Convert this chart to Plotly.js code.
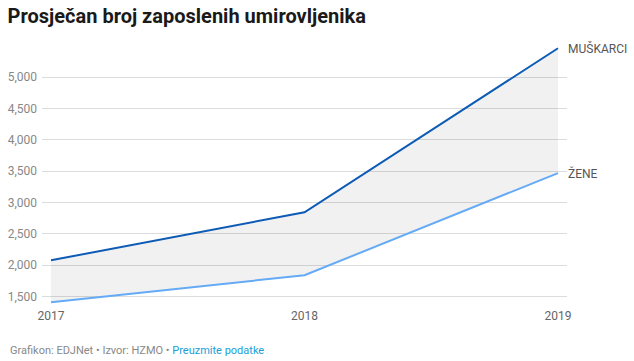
<!DOCTYPE html>
<html>
<head>
<meta charset="utf-8">
<script src="https://cdn.plot.ly/plotly-3.0.1.min.js"></script>
<style>
html,body{margin:0;padding:0;background:#fff;}
#chart{width:634px;height:361px;}
</style>
</head>
<body>
<div id="chart"></div>
<script>
const years = [2017, 2018, 2019];
const muskarci = [2075, 2843, 5462];
const zene = [1404, 1837, 3468];
const yTicks = [1500, 2000, 2500, 3000, 3500, 4000, 4500, 5000];
const seriesNames = ['MUŠKARCI', 'ŽENE'];

const traces = [
  {x: years, y: zene, type: 'scatter', mode: 'lines', name: seriesNames[1],
   line: {color: '#64aaf6', width: 2}, hoverinfo: 'x+y'},
  {x: years, y: muskarci, type: 'scatter', mode: 'lines', name: seriesNames[0],
   line: {color: '#0d5bb5', width: 2}, fill: 'tonexty', fillcolor: 'rgba(0,0,0,0.055)', hoverinfo: 'x+y'}
];

const last = years.length - 1;
const layout = {
  width: 634, height: 361,
  margin: {l: 42, r: 67, t: 44, b: 57},
  paper_bgcolor: '#fff', plot_bgcolor: '#fff',
  showlegend: false,
  font: {family: 'Roboto, sans-serif', size: 12, color: '#666'},
  title: {text: '<b>Prosječan broj zaposlenih umirovljenika</b>', x: 0.012, xanchor: 'left', y: 0.955, yanchor: 'middle',
          font: {family: 'Roboto, sans-serif', size: 20, color: '#1a1a1a'}},
  xaxis: {range: [2016.9645, 2019.0355], tickvals: years, ticktext: years.map(String), showgrid: false, zeroline: false,
          showline: false, ticks: '', ticklabelstandoff: 3, tickfont: {size: 12, color: '#666'}, fixedrange: true},
  yaxis: {range: [1377, 5530], tickvals: yTicks, tickformat: ',', showgrid: true, gridcolor: '#dcdcdc', gridwidth: 1,
          zeroline: false, showline: false, ticks: '', ticklabelstandoff: 4, tickfont: {size: 12, color: '#888'}, fixedrange: true},
  annotations: [
    {x: years[last], y: muskarci[last], xref: 'x', yref: 'y', text: seriesNames[0], showarrow: false,
     xanchor: 'left', yanchor: 'middle', xshift: 8, yshift: 0, font: {size: 12, color: '#555'}},
    {x: years[last], y: zene[last], xref: 'x', yref: 'y', text: seriesNames[1], showarrow: false,
     xanchor: 'left', yanchor: 'middle', xshift: 8, yshift: 0, font: {size: 12, color: '#555'}},
    {x: 0.013, y: 351, xref: 'paper', yref: 'paper', text: 'Grafikon: EDJNet • Izvor: HZMO • <span style="color:#1a9ed6">Preuzmite podatke</span>',
     showarrow: false, xanchor: 'left', yanchor: 'middle', font: {size: 11, color: '#888'}}
  ]
};
// footer position in pixels → paper coords
layout.annotations[2].x = (8 - layout.margin.l) / (634 - layout.margin.l - layout.margin.r);
layout.annotations[2].y = (361 - layout.margin.b - 350) / (361 - layout.margin.t - layout.margin.b);

Plotly.newPlot('chart', traces, layout, {displayModeBar: false, staticPlot: true});
</script>
</body>
</html>
